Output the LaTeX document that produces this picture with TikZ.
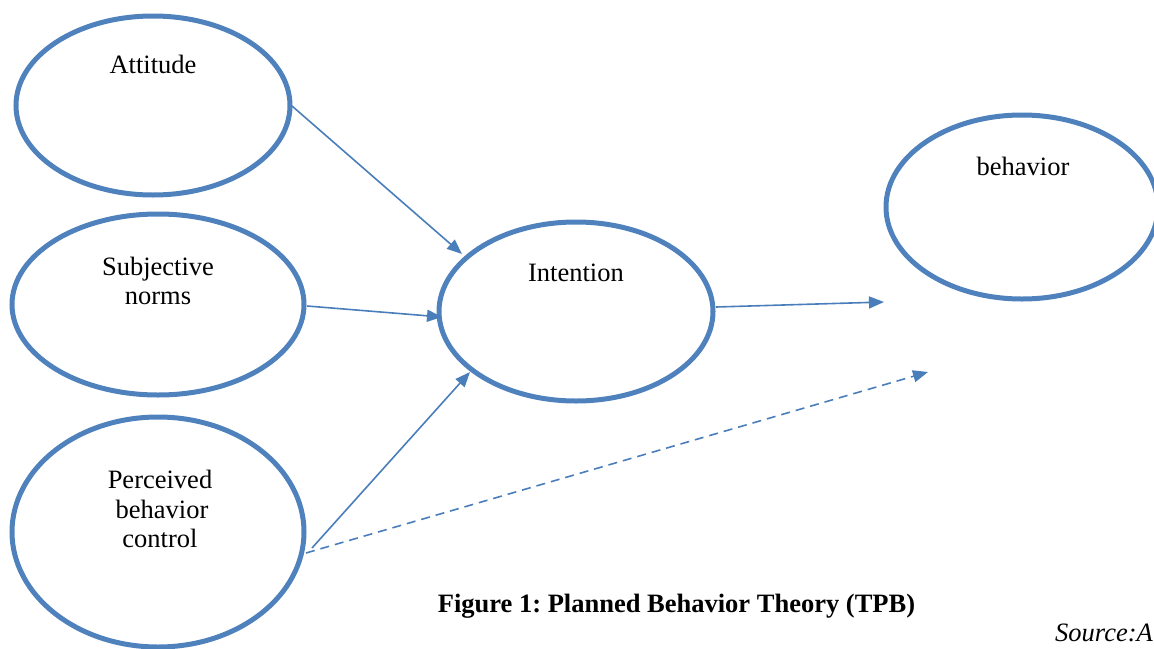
\documentclass[tikz,border=0pt]{standalone}
\usepackage{fontspec}
\setmainfont{Liberation Serif}
\frenchspacing
\usetikzlibrary{shapes.geometric,arrows.meta}
\definecolor{tpbblue}{RGB}{79,129,189}
\definecolor{arrowblue}{RGB}{74,126,187}
\tikzset{
  oval/.style={ellipse, draw=tpbblue, line width=5pt, inner sep=0pt, outer sep=0pt},
  lbl/.style={font=\fontsize{26.5}{30}\selectfont, anchor=base, inner sep=0pt},
  conn/.style={draw=arrowblue, line width=1.6pt, -{Triangle[length=15pt,width=12pt]}},
  dconn/.style={conn, dash pattern=on 9pt off 6pt}
}
\begin{document}
\begin{tikzpicture}[x=1pt,y=-1pt]
\useasboundingbox (0,0) rectangle (1154,648);
% ellipses
\node[oval, minimum width=274pt, minimum height=179pt] (att) at (153,105.5) {};
\node[oval, minimum width=292pt, minimum height=181pt] (sub) at (158,304.5) {};
\node[oval, minimum width=292pt, minimum height=230pt] (pbc) at (158,532) {};
\node[oval, minimum width=274pt, minimum height=179pt] (int) at (576,311.5) {};
\node[oval, minimum width=272pt, minimum height=184pt] (beh) at (1022,207) {};
% labels
\node[lbl] (tatt) at (153,73) {Attitude};
\node[lbl] (tsub1) at (158,275) {Subjective};
\node[lbl] (tsub2) at (158,304) {norms};
\node[lbl] (tpbc1) at (160,488) {Perceived};
\node[lbl] (tpbc2) at (162,518) {behavior};
\node[lbl] (tpbc3) at (160,547) {control};
\node[lbl] (tint) at (576,281) {Intention};
\node[lbl] (tbeh) at (1023,175) {behavior};
\node[lbl, font=\bfseries\fontsize{26.5}{30}\selectfont] (cap) at (676.5,612) {Figure 1: Planned Behavior Theory (TPB)};
\node[lbl, anchor=base west, font=\itshape\fontsize{26.5}{30}\selectfont] (src) at (1055,641) {Source:A};
% connector end points
\coordinate (a1) at (292,106);
\coordinate (a2) at (462,254);
\coordinate (s1) at (307,306);
\coordinate (s2) at (442,317);
\coordinate (p1) at (312,548);
\coordinate (p2) at (470,372);
\coordinate (i1) at (716,307);
\coordinate (i2) at (884,302);
\coordinate (d1) at (306,553);
\coordinate (d2) at (928,372);
\draw[conn] (a1) -- (a2);
\draw[conn] (s1) -- (s2);
\draw[conn] (p1) -- (p2);
\draw[conn] (i1) -- (i2);
\draw[dconn] (d1) -- (d2);
\end{tikzpicture}
\end{document}
